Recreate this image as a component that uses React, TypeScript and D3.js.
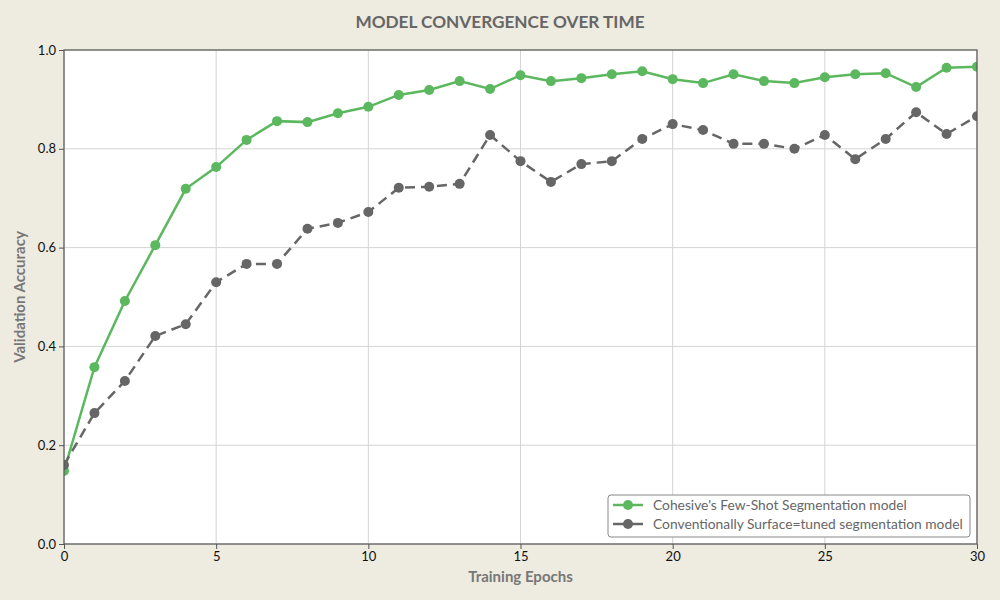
import * as d3 from 'd3';
import { useEffect, useRef } from 'react';

const epochs = d3.range(0, 31);

const fewShot = [
    0.148, 0.358, 0.492, 0.605, 0.719, 0.763, 0.818, 0.856, 0.854, 0.872, 0.885,
    0.909, 0.919, 0.937, 0.921, 0.949, 0.937, 0.943, 0.951, 0.957, 0.941,
    0.933, 0.951, 0.937, 0.933, 0.945, 0.951, 0.953, 0.925, 0.964, 0.966,
];

const finetuned = [
    0.160, 0.265, 0.330, 0.421, 0.445, 0.530, 0.567, 0.567, 0.638, 0.650, 0.672,
    0.721, 0.723, 0.729, 0.828, 0.775, 0.733, 0.769, 0.775, 0.820, 0.850,
    0.838, 0.810, 0.810, 0.800, 0.828, 0.779, 0.820, 0.874, 0.830, 0.866,
];

const seriesNames = [
    "Cohesive's Few-Shot Segmentation model",
    'Conventionally Surface=tuned segmentation model',
];
const seriesColors = ['#5cb85f', '#666666'];

const xTicks = [0, 5, 10, 15, 20, 25, 30];
const yTicks = [0, 0.2, 0.4, 0.6, 0.8, 1.0];

export default function App() {
    const chartRef = useRef<SVGSVGElement | null>(null);

    useEffect(() => {
        if (!chartRef.current) return;
        document.body.style.margin = '0';
        d3.select(chartRef.current).selectAll('*').remove();

        const width = 1000;
        const height = 600;
        const margin = { top: 50, right: 23, bottom: 56, left: 64 };
        const font = 'Lato, "Open Sans", sans-serif';

        const svg = d3.select(chartRef.current).attr('viewBox', `0 0 ${width} ${height}`);

        svg.append('rect').attr('width', width).attr('height', height).attr('fill', '#eeebe0');

        const x = d3.scaleLinear().domain([0, 30]).range([margin.left, width - margin.right]);
        const y = d3.scaleLinear().domain([0, 1]).range([height - margin.bottom, margin.top]);

        svg.append('defs')
            .append('clipPath')
            .attr('id', 'plot-clip')
            .append('rect')
            .attr('x', margin.left)
            .attr('y', margin.top)
            .attr('width', width - margin.left - margin.right)
            .attr('height', height - margin.top - margin.bottom);

        svg.append('rect')
            .attr('x', margin.left)
            .attr('y', margin.top)
            .attr('width', width - margin.left - margin.right)
            .attr('height', height - margin.top - margin.bottom)
            .attr('fill', '#ffffff');

        // grid
        const grid = svg.append('g').attr('stroke', '#d4d4d4').attr('stroke-width', 1);
        grid.selectAll('line.v')
            .data(xTicks)
            .join('line')
            .attr('x1', (d) => x(d))
            .attr('x2', (d) => x(d))
            .attr('y1', margin.top)
            .attr('y2', height - margin.bottom);
        grid.selectAll('line.h')
            .data(yTicks)
            .join('line')
            .attr('x1', margin.left)
            .attr('x2', width - margin.right)
            .attr('y1', (d) => y(d))
            .attr('y2', (d) => y(d));

        const plot = svg.append('g').attr('clip-path', 'url(#plot-clip)');
        const line = d3
            .line<number>()
            .x((_, i) => x(epochs[i]))
            .y((d) => y(d));

        [fewShot, finetuned].forEach((data, s) => {
            plot.append('path')
                .datum(data)
                .attr('d', line)
                .attr('fill', 'none')
                .attr('stroke', seriesColors[s])
                .attr('stroke-width', 2.5)
                .attr('stroke-dasharray', s === 1 ? '10,6' : null);
            plot.append('g')
                .selectAll('circle')
                .data(data)
                .join('circle')
                .attr('cx', (_, i) => x(epochs[i]))
                .attr('cy', (d) => y(d))
                .attr('r', 5)
                .attr('fill', seriesColors[s]);
        });

        // frame
        svg.append('rect')
            .attr('x', margin.left)
            .attr('y', margin.top)
            .attr('width', width - margin.left - margin.right)
            .attr('height', height - margin.top - margin.bottom)
            .attr('fill', 'none')
            .attr('stroke', '#555555')
            .attr('stroke-width', 1.2);

        const xAxis = svg.append('g')
            .attr('transform', `translate(0,${height - margin.bottom})`)
            .call(d3.axisBottom(x).tickValues(xTicks).tickFormat(d3.format('d')).tickSizeInner(5).tickSizeOuter(0));
        xAxis.select('.domain').remove();
        xAxis.selectAll('line').attr('stroke', '#555555');
        xAxis.selectAll('text').attr('fill', '#111').style('font-family', font).style('font-size', '13px');

        const yAxis = svg.append('g')
            .attr('transform', `translate(${margin.left},0)`)
            .call(d3.axisLeft(y).tickValues(yTicks).tickFormat(d3.format('.1f')).tickSizeInner(5).tickSizeOuter(0));
        yAxis.select('.domain').remove();
        yAxis.selectAll('line').attr('stroke', '#555555');
        yAxis.selectAll('text').attr('fill', '#111').style('font-family', font).style('font-size', '13px');

        svg.append('text')
            .attr('x', width / 2)
            .attr('y', 28)
            .attr('text-anchor', 'middle')
            .attr('fill', '#666666')
            .style('font-family', font)
            .style('font-weight', 'bold')
            .style('font-size', '17.2px')
            .text('MODEL CONVERGENCE OVER TIME');

        svg.append('text')
            .attr('x', (margin.left + width - margin.right) / 2)
            .attr('y', 582)
            .attr('text-anchor', 'middle')
            .attr('fill', '#777777')
            .style('font-family', font)
            .style('font-weight', 'bold')
            .style('font-size', '15px')
            .text('Training Epochs');

        svg.append('text')
            .attr('transform', `translate(25,${(margin.top + height - margin.bottom) / 2}) rotate(-90)`)
            .attr('text-anchor', 'middle')
            .attr('fill', '#777777')
            .style('font-family', font)
            .style('font-weight', 'bold')
            .style('font-size', '15px')
            .text('Validation Accuracy');

        // legend
        const legend = svg.append('g').attr('transform', 'translate(608,495)');
        legend.append('rect')
            .attr('width', 362)
            .attr('height', 42)
            .attr('rx', 3)
            .attr('fill', '#ffffff')
            .attr('stroke', '#888888')
            .attr('stroke-width', 1);
        seriesNames.forEach((name, i) => {
            const ly = 10 + i * 19;
            legend.append('line')
                .attr('x1', 5)
                .attr('x2', 35)
                .attr('y1', ly)
                .attr('y2', ly)
                .attr('stroke', seriesColors[i])
                .attr('stroke-width', 2.5);
            legend.append('circle').attr('cx', 20).attr('cy', ly).attr('r', 5).attr('fill', seriesColors[i]);
            legend.append('text')
                .attr('x', 45)
                .attr('y', ly)
                .attr('dy', '0.35em')
                .attr('fill', '#666666')
                .style('font-family', font)
                .style('font-size', '13.8px')
                .text(name);
        });
    }, []);

    return <svg ref={chartRef} width={1000} height={600} style={{ display: 'block' }} />;
}
